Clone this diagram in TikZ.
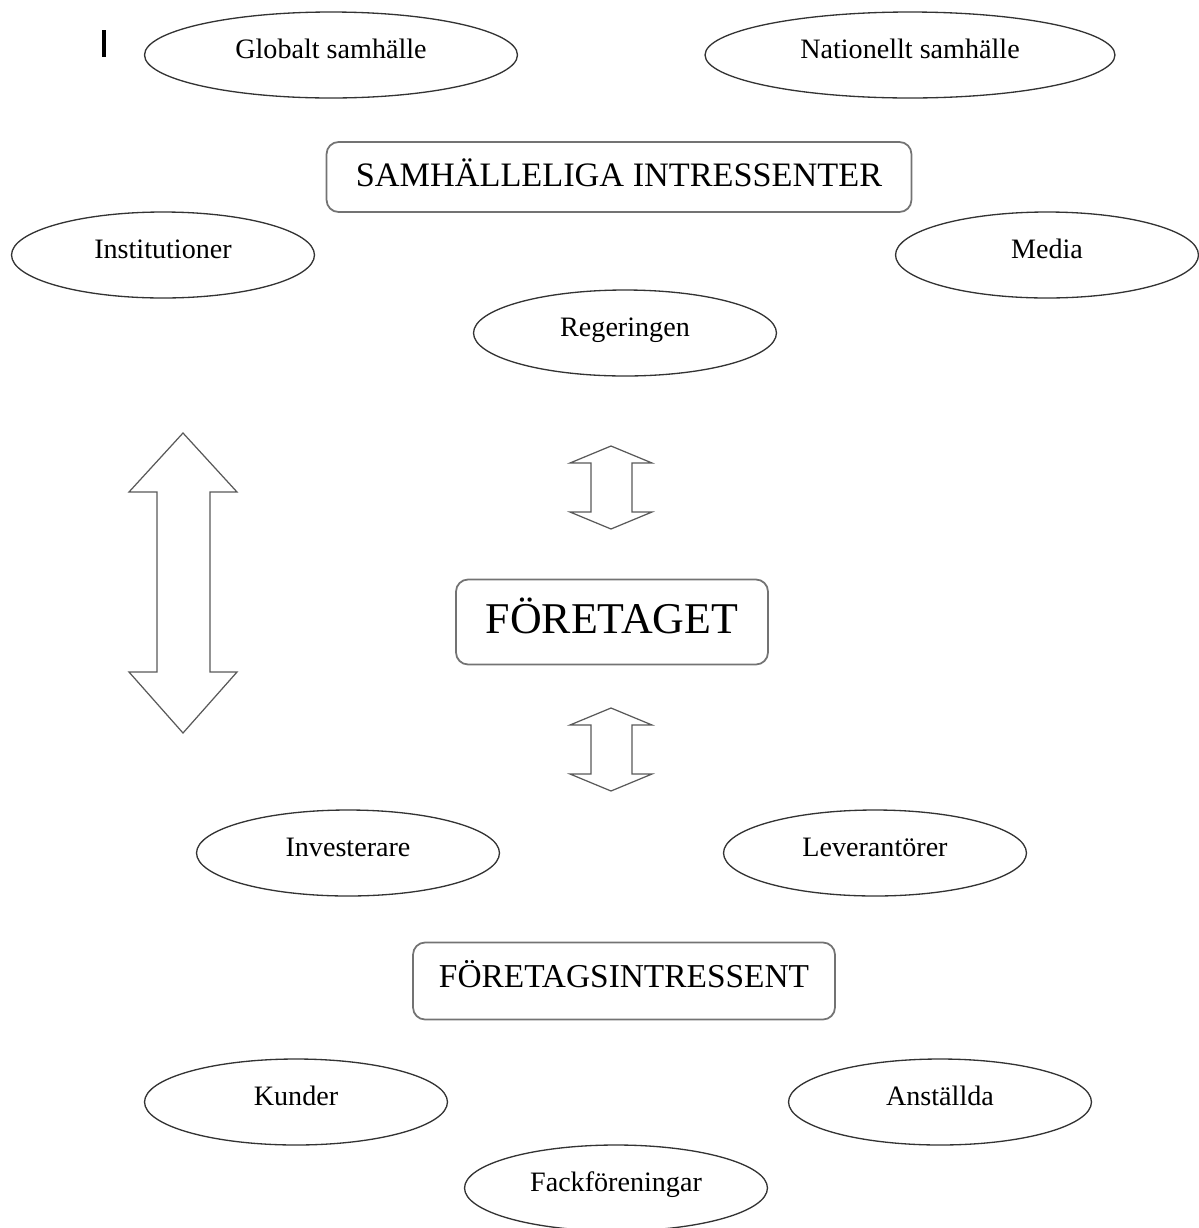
\documentclass[tikz,border=0pt]{standalone}
\usepackage{fontspec}
\setmainfont{Liberation Serif}
\usetikzlibrary{shapes.geometric}
\tikzset{
  party/.style={ellipse, draw=black!80, line width=0.75pt, minimum width=6.06cm, minimum height=1.72cm,
    font=\fontsize{16}{18}\selectfont, text height=0.5cm, text depth=0.38cm},
  group/.style={rectangle, rounded corners=0.24cm, draw=black!55, line width=1pt},
  blockarrow/.style={draw=black!65, line width=0.7pt, line join=miter, fill=white}
}
\begin{document}
\begin{tikzpicture}[x=0.02cm,y=-0.02cm]
\useasboundingbox (0,0) rectangle (1198,1228);
% cursor
\draw[line width=2pt] (104,30) -- (104,57);
% samhalleliga
\node[party, minimum width=7.46cm] (globalt) at (331,55) {Globalt samhälle};
\node[party, minimum width=8.2cm] (nationellt) at (910,55) {Nationellt samhälle};
\node[group, minimum width=11.7cm, minimum height=1.4cm, font=\fontsize{19.5}{22}\selectfont,
  text height=0.7cm, text depth=0.34cm] (samhalle) at (619,177) {SAMHÄLLELIGA INTRESSENTER};
\node[party] (institutioner) at (163,255) {Institutioner};
\node[party] (media) at (1047,255) {Media};
\node[party] (regeringen) at (625,333) {Regeringen};
% foretaget
\node[group, minimum width=6.24cm, minimum height=1.7cm, font=\fontsize{25}{28}\selectfont,
  text height=0.9cm, text depth=0.44cm] (foretaget) at (612,622) {FÖRETAGET};
% arrows
\draw[blockarrow] (183,433) -- (237,492) -- (210,492) -- (210,672) -- (237,672) -- (183,733)
  -- (129,672) -- (157,672) -- (157,492) -- (129,492) -- cycle;
\foreach \o in {0,262}
  \draw[blockarrow] (611,446+\o) -- (652,463+\o) -- (632,463+\o) -- (632,512+\o) -- (652,512+\o)
    -- (611,529+\o) -- (570,512+\o) -- (591,512+\o) -- (591,463+\o) -- (570,463+\o) -- cycle;
% foretagsintressent
\node[party] (investerare) at (348,853) {Investerare};
\node[party] (leverantorer) at (875,853) {Leverantörer};
\node[group, minimum width=8.44cm, minimum height=1.54cm, font=\fontsize{19}{22}\selectfont,
  text height=0.66cm, text depth=0.4cm] (foretagsint) at (624,981) {FÖRETAGSINTRESSENT};
\node[party] (kunder) at (296,1102) {Kunder};
\node[party] (anstallda) at (940,1102) {Anställda};
\node[party] (fack) at (616,1188) {Fackföreningar};
\end{tikzpicture}
\end{document}
